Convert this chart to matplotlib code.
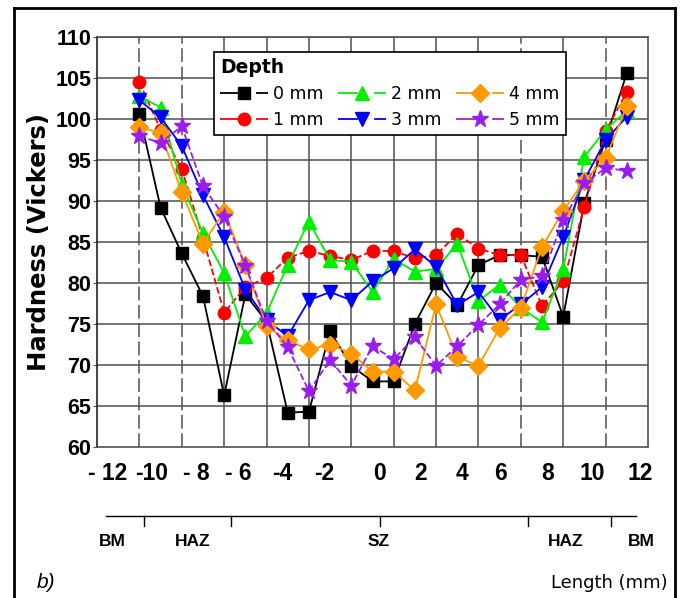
import matplotlib.pyplot as plt
import matplotlib.transforms as mtransforms
from matplotlib.lines import Line2D

# hardness profile, depth series 0..5 mm
length_mm = [-11, -10, -9, -8, -7, -6, -5, -4, -3, -2, -1, 0,
             1, 2, 3, 4, 5, 6, 7, 8, 9, 10, 11, 12]

hv_0mm = [100.6, 89.2, 83.6, 78.4, 66.3, 78.6, 75.3, 64.2, 64.3, 74.1, 69.9, 68.0,
          68.0, 75.0, 80.0, 77.3, 82.2, 83.4, 83.4, 83.2, 75.9, 89.8, 97.5, 105.6]
hv_1mm = [104.5, 98.7, 93.9, 85.5, 76.4, 79.5, 80.6, 83.1, 83.9, 83.3, 82.8, 83.9,
          83.9, 83.0, 83.4, 86.0, 84.2, 83.4, 83.4, 77.2, 80.2, 89.3, 98.5, 103.3]
hv_2mm = [102.8, 101.4, 92.0, 86.1, 81.2, 73.5, 76.3, 82.2, 87.5, 82.8, 82.6, 78.9,
          82.9, 81.4, 81.7, 84.8, 77.8, 79.8, 77.0, 75.2, 81.7, 95.4, 98.7, 101.0]
hv_3mm = [102.3, 100.2, 96.7, 90.7, 85.6, 79.2, 75.5, 73.5, 77.9, 78.9, 77.9, 80.2,
          81.8, 84.1, 82.0, 77.3, 78.9, 75.5, 77.4, 79.5, 85.6, 92.6, 97.4, 100.3]
hv_4mm = [99.0, 98.3, 91.1, 84.8, 88.7, 82.2, 74.7, 73.0, 71.9, 72.5, 71.4, 69.2,
          69.2, 66.9, 77.4, 71.0, 69.9, 74.5, 77.0, 84.4, 88.8, 92.5, 95.2, 101.6]
hv_5mm = [97.9, 97.1, 99.1, 91.8, 88.1, 82.1, 75.4, 72.2, 66.8, 70.6, 67.5, 72.3,
          70.7, 73.4, 69.9, 72.3, 74.9, 77.4, 80.4, 80.8, 87.7, 92.2, 94.0, 93.7]

depth_labels = ['0 mm', '1 mm', '2 mm', '3 mm', '4 mm', '5 mm']
xtick_labels = ['- 12', '-10', '- 8', '- 6', '-4', '-2', '0', '2', '4', '6', '8', '10', '12']
zone_labels = ['BM', 'HAZ', 'SZ', 'HAZ', 'BM']

# layout (the scanned tick labels sit a bit off the grid)
xtick_pos = [-12.5, -10.4, -8.33, -6.35, -4.27, -2.29, 0.35, 2.29, 4.22, 6.06, 8.28, 10.35, 12.62]
zone_ticks = [-10.78, -6.7, 0.35, 7.33, 11.25]
zone_label_x = [-12.3, -8.5, 0.3, 9.1, 12.7]

series = [hv_0mm, hv_1mm, hv_2mm, hv_3mm, hv_4mm, hv_5mm]
colors = ['black', '#ff0000', '#00f000', '#0000ff', '#ff9900', '#9a1cf0']
markers = ['s', 'o', '^', 'v', 'D', '*']
msizes = [8, 9, 10.5, 10.5, 9, 12.5]
styles = ['-', '--', '-', '-', '-', '--']

fig = plt.figure(figsize=(6.84, 5.98), dpi=100)
ax = fig.add_axes([97/684, 151/598, 551/684, 410/598])

# grid
gc = '#505050'
for yv in range(65, 111, 5):
    ax.axhline(yv, color=gc, lw=1.1, zorder=0)
for xv in [-11, -9, -7, -5, -3, -1, 1, 3, 5, 7, 9, 11]:
    ls = (0, (9, 3)) if xv in (-11, -9, 7, 11) else '-'
    ax.axvline(xv, color=gc, lw=1.1, ls=ls, zorder=0)

for vals, c, m, ms, ls in zip(series, colors, markers, msizes, styles):
    ax.plot(length_mm, vals, color=c, ls=ls, lw=1.3, marker=m, ms=ms,
            mec=c, zorder=3)

ax.set_xlim(-13, 13)
ax.set_ylim(60, 110)
ax.set_yticks(range(60, 111, 5))
ax.set_xticks(xtick_pos)
ax.set_xticklabels(xtick_labels, fontsize=16.5, fontweight='bold',
                   family=['Liberation Sans Narrow', 'Liberation Sans'])
ax.tick_params(axis='x', length=0, pad=11)
ax.tick_params(axis='y', length=3, pad=1, color=gc)
for lab in ax.get_yticklabels():
    lab.set_fontsize(15.5)
    lab.set_fontweight('bold')
    lab.set_family('Liberation Sans')
ax.spines['left'].set_color('#222222')
ax.spines['bottom'].set_color(gc)
ax.spines['right'].set_color(gc)
ax.spines['top'].set_color(gc)
for s in ax.spines.values():
    s.set_linewidth(1.2)

ax.set_ylabel('Hardness (Vickers)', fontsize=17.5, fontweight='bold', labelpad=3)

# legend
handles = [Line2D([], [], color=c, lw=1.3, ls=(0, (11, 9)), marker=m, ms=ms, mec=c)
           for c, m, ms in zip(colors, markers, msizes)]
leg = ax.legend(handles, depth_labels, ncol=3, loc='upper left',
                bbox_to_anchor=(0.212, 0.963), borderaxespad=0,
                title='Depth', title_fontproperties={'weight': 'bold', 'size': 13.5},
                fontsize=12.5, handlelength=2.75, handletextpad=0.3,
                columnspacing=0.85, labelspacing=0.45, borderpad=0.35,
                fancybox=False, framealpha=1, edgecolor='black')
leg._legend_box.align = 'left'
leg.get_frame().set_linewidth(1.2)
leg.set_zorder(5)

# zone bar below the axis
tr = mtransforms.blended_transform_factory(ax.transData, fig.transFigure)
yb = 1 - 516/598
fig.add_artist(Line2D([-12.57, 12.43], [yb, yb], transform=tr, color='black', lw=1.0))
for zt in zone_ticks:
    fig.add_artist(Line2D([zt, zt], [yb, yb - 10/598], transform=tr, color='black', lw=1.0))
for zx, zl in zip(zone_label_x, zone_labels):
    fig.text(zx, 1 - 541/598, zl, transform=tr, ha='center', va='center',
             fontsize=12.5, fontweight='bold', family='Liberation Sans')

fig.text(46/684, 1 - 582/598, 'b)', ha='center', va='center', fontsize=15, style='italic',
         family='Liberation Sans')
fig.text(668/684, 1 - 583/598, 'Length (mm)', ha='right', va='center', fontsize=13)

# outer frame
bx = dict(color='black', lw=2.0, transform=fig.transFigure)
fig.add_artist(Line2D([14/684, 14/684], [0, 1 - 8/598], **bx))
fig.add_artist(Line2D([14/684, 675/684], [1 - 8/598, 1 - 8/598], **bx))
fig.add_artist(Line2D([675/684, 675/684], [0, 1 - 8/598], **bx))

plt.savefig('out.png', dpi=100)
